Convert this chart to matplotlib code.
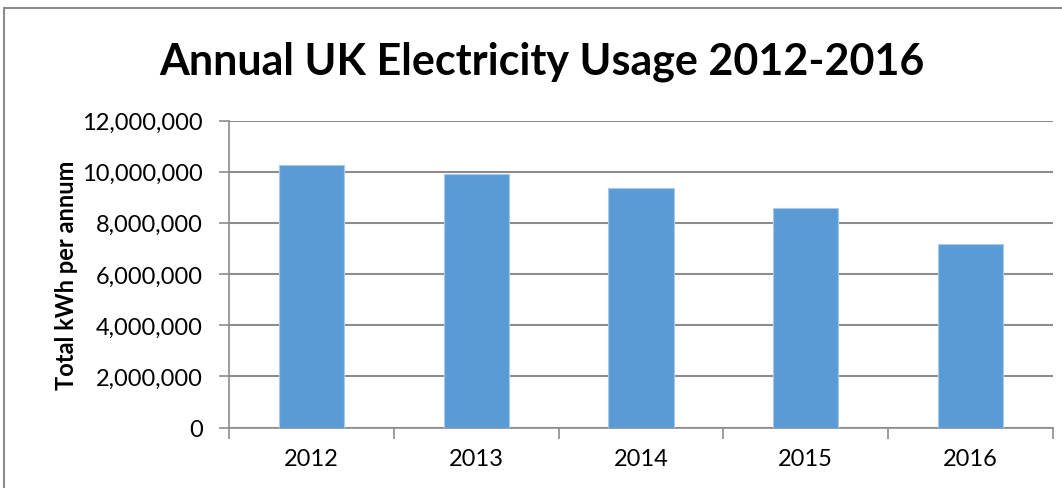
import matplotlib
matplotlib.use("Agg")
import matplotlib.pyplot as plt
from matplotlib.patches import Rectangle
from matplotlib.ticker import FuncFormatter

years = ["2012", "2013", "2014", "2015", "2016"]
usage_kwh = [10250000, 9890000, 9370000, 8590000, 7180000]
y_ticks = [0, 2000000, 4000000, 6000000, 8000000, 10000000, 12000000]

W, H = 1062, 489
fig = plt.figure(figsize=(W / 100, H / 100), dpi=100)
fig.patch.set_facecolor("white")

# outer chart border (clipped by the image on right/bottom)
fig.patches.append(Rectangle((4 / W, -0.1), 1.2, 1 - 9 / H + 0.1,
                             transform=fig.transFigure, fill=False,
                             edgecolor="#8c8c8c", linewidth=1.5))

left, right, top, bottom = 229, 1053, 121.5, 428.5
ax = fig.add_axes([left / W, 1 - bottom / H, (right - left) / W, (bottom - top) / H])

x = list(range(len(years)))
ax.bar(x, usage_kwh, width=0.395, color="#5B9BD5", edgecolor="#a9c9eb", linewidth=0.8, zorder=3)

ax.set_xlim(-0.5, len(years) - 0.5)
ax.set_ylim(0, 12000000)
ax.set_yticks(y_ticks)
ax.yaxis.set_major_formatter(FuncFormatter(lambda v, p: f"{int(v):,}"))
ax.set_xticks(x)
ax.set_xticklabels(years)
ax.set_xticks([i - 0.5 for i in range(len(years) + 1)], minor=True)

ax.grid(axis="y", color="#8c8c8c", linewidth=1.5, zorder=0)
for s in ["top", "right"]:
    ax.spines[s].set_visible(False)
for s in ["left", "bottom"]:
    ax.spines[s].set_color("#8c8c8c")
    ax.spines[s].set_linewidth(1.2)

font = "Lato"
ax.tick_params(axis="y", length=7, color="#8c8c8c", width=1.2, labelsize=17, pad=12)
ax.tick_params(axis="x", which="major", length=0, labelsize=17, pad=15)
ax.tick_params(axis="x", which="minor", length=8, color="#8c8c8c", width=1.2)
for lab in ax.get_yticklabels() + ax.get_xticklabels():
    lab.set_fontfamily(font)

ax.set_ylabel("Total kWh per annum", fontsize=17, fontweight="bold", fontfamily=font, labelpad=3)

fig.text(542 / W, 1 - 62 / H, "Annual UK Electricity Usage 2012-2016", ha="center", va="center",
         fontsize=31, fontweight="bold", fontfamily=font)

fig.savefig("out.png", dpi=100, facecolor="white")
